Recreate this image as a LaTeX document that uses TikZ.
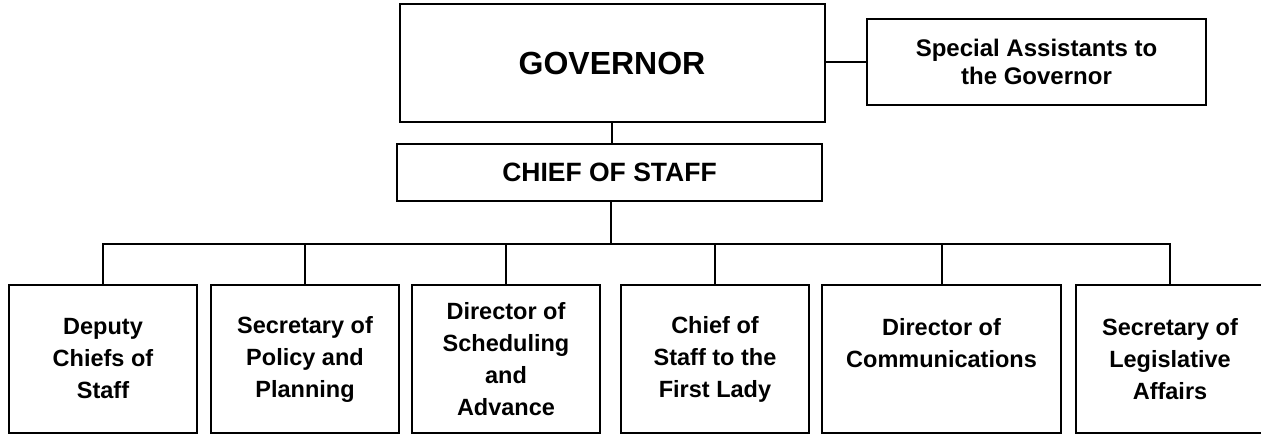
\documentclass[tikz,border=0pt]{standalone}
\usepackage{fontspec}
\setmainfont{Liberation Sans}
\usetikzlibrary{positioning,calc}

\begin{document}
\begin{tikzpicture}[
    x=1pt, y=-1pt,
    line width=2pt,
    box/.style={rectangle, draw, line width=2pt, align=center, inner sep=0pt, font=\bfseries\fontsize{23.5}{32}\selectfont},
    unit/.style={box, minimum width=188pt, minimum height=148pt}
]
\useasboundingbox (0,0) rectangle (1261,434);

% Top of the chart
\node[box, minimum width=425pt, minimum height=118pt, font=\bfseries\fontsize{32}{38}\selectfont] (gov) at (612,63) {GOVERNOR};
\node[box, minimum width=339pt, minimum height=86pt, font=\bfseries\fontsize{24}{28}\selectfont] (special) at (1036.5,62) {Special Assistants to\\the Governor};
\node[box, minimum width=425pt, minimum height=57pt, font=\bfseries\fontsize{26.5}{30}\selectfont] (cos) at (609.5,172.5) {CHIEF OF STAFF};

% Offices under the chief of staff
\node[unit] (deputy) at (103,359) {Deputy\\Chiefs of\\Staff};
\node[unit] (policy) at (305,359) {Secretary of\\Policy and\\Planning};
\node[unit] (sched) at (506,359) {Director of\\Scheduling\\and\\Advance};
\node[unit] (lady) at (715,359) {Chief of\\Staff to the\\First Lady};
\node[unit, minimum width=239pt] (comms) at (941.5,359) {Director of\\Communications\\~};
\node[unit] (legis) at (1170,359) {Secretary of\\Legislative\\Affairs};

\coordinate (bus) at (611,244);

\draw (special.west -| gov.east) -- (special.west);
\draw (gov.south) -- (gov.south |- cos.north);
\draw (cos.south -| bus) -- (bus);
\draw (deputy.north) |- (bus) -| (legis.north);
\draw (policy.north) -- (policy.north |- bus);
\draw (sched.north) -- (sched.north |- bus);
\draw (lady.north) -- (lady.north |- bus);
\draw (comms.north) -- (comms.north |- bus);
\end{tikzpicture}
\end{document}
